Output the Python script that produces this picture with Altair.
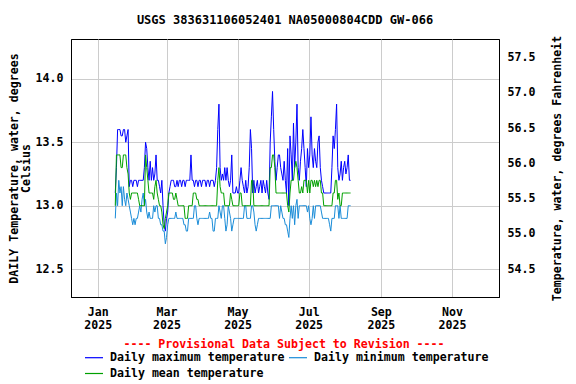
import altair as alt
import pandas as pd

TITLE = "USGS 383631106052401 NA05000804CDD GW-066"
PROVISIONAL = "---- Provisional Data Subject to Revision ----"
LEFT_TITLE = ["DAILY Temperature, water, degrees", "Celsius"]
RIGHT_TITLE = "Temperature, water, degrees Fahrenheit"
SERIES = ["Daily maximum temperature", "Daily minimum temperature", "Daily mean temperature"]
COLORS = ["#0000ff", "#1a8cd8", "#00a000"]
START = "2025-01-16"

max_t = [
    13.1, 13.3, 13.6, 13.6, 13.6, 13.55, 13.55, 13.6, 13.6, 13.5,
    13.55, 13.6, 13.15, 13.2, 13.2, 13.15, 13.2, 13.2, 13.2, 13.15,
    13.2, 13.2, 13.2, 13.2, 13.2, 13.3, 13.5, 13.45, 13.3, 13.2,
    13.35, 13.2, 13.3, 13.2, 13.25, 13.4, 13.2, 13.2, 13.15, 13.1,
    13.2, 13.0, 12.85, 12.8, 12.9, 12.95, 13.1, 13.15, 13.2, 13.2,
    13.2, 13.15, 13.15, 13.2, 13.15, 13.2, 13.2, 13.15, 13.2, 13.2,
    13.15, 13.2, 13.2, 13.2, 13.2, 13.4, 13.2, 13.2, 13.15, 13.2,
    13.2, 13.15, 13.2, 13.2, 13.15, 13.2, 13.2, 13.2, 13.15, 13.2,
    13.2, 13.15, 13.2, 13.2, 13.2, 13.15, 13.2, 13.3, 13.6, 13.8,
    13.3, 13.2, 13.25, 13.2, 13.3, 13.2, 13.3, 13.2, 13.15, 13.2,
    13.4, 13.1, 13.1, 13.1, 13.15, 13.1, 13.1, 13.2, 13.3, 13.2,
    13.15, 13.1, 13.2, 13.1, 13.15, 13.3, 13.6, 13.45, 13.1, 13.2,
    13.1, 13.15, 13.2, 13.1, 13.15, 13.2, 13.1, 13.2, 13.15, 13.1,
    13.2, 13.1, 13.05, 13.5, 13.7, 13.9, 13.6, 13.35, 13.2, 13.3,
    13.4, 13.4, 13.3, 13.25, 13.2, 13.35, 13.2, 13.1, 13.45, 13.0,
    13.55, 13.4, 13.2, 13.65, 13.3, 13.5, 13.8, 13.3, 13.2, 13.35,
    13.45, 13.6, 13.45, 13.3, 13.15, 13.45, 13.3, 13.4, 13.7, 13.4,
    13.3, 13.45, 13.35, 13.3, 13.5, 13.55, 13.3, 13.2, 13.15, 13.1,
    13.1, 13.1, 13.1, 13.1, 13.1, 13.1, 13.3, 13.55, 13.45, 13.6,
    13.8, 13.3, 13.2, 13.25, 13.35, 13.2, 13.3, 13.35, 13.25, 13.3,
    13.4, 13.2, 13.2,
]

min_t = [
    12.9, 13.1, 13.0, 13.2, 13.1, 13.15, 13.0, 13.15, 13.05, 13.0,
    13.1, 13.05, 13.0, 12.95, 12.9, 12.85, 12.9, 12.85, 12.9, 12.9,
    12.95, 13.0, 12.95, 13.05, 13.1, 13.0, 13.05, 12.95, 12.9, 12.95,
    12.9, 12.9, 12.9, 13.0, 12.95, 13.0, 13.0, 12.9, 12.9, 12.85,
    12.85, 12.8, 12.8, 12.7, 12.75, 12.85, 12.9, 12.9, 12.9, 12.9,
    12.9, 12.9, 12.95, 12.9, 12.9, 12.9, 12.9, 12.9, 12.9, 12.85,
    12.85, 12.8, 12.8, 12.9, 12.9, 12.9, 12.9, 12.9, 13.0, 13.0,
    12.9, 12.85, 12.9, 12.9, 12.9, 12.9, 12.9, 12.9, 12.9, 12.9,
    12.9, 12.95, 12.9, 12.9, 12.8, 12.8, 12.9, 12.9, 12.9, 13.0,
    12.95, 12.9, 13.0, 13.0, 12.9, 12.8, 12.85, 13.0, 12.95, 12.9,
    12.8, 12.85, 12.9, 12.9, 12.9, 12.9, 12.9, 12.9, 12.9, 12.9,
    12.9, 13.0, 13.0, 12.9, 12.9, 12.9, 12.9, 13.0, 13.0, 12.95,
    12.85, 12.8, 12.85, 12.9, 12.9, 12.9, 12.9, 12.9, 12.9, 12.9,
    12.9, 12.9, 12.9, 12.9, 13.0, 13.0, 13.0, 13.0, 13.0, 13.0,
    13.0, 12.9, 13.0, 12.95, 12.9, 12.9, 12.85, 12.85, 12.8, 12.75,
    12.9, 13.0, 12.9, 13.0, 12.85, 13.0, 13.05, 12.9, 13.0, 13.0,
    13.0, 13.0, 13.0, 13.0, 13.0, 12.95, 13.0, 12.9, 12.85, 12.9,
    13.0, 12.9, 13.0, 13.0, 13.0, 13.0, 13.0, 12.95, 12.9, 12.9,
    12.9, 12.9, 12.9, 12.9, 12.85, 12.8, 12.9, 12.9, 12.9, 13.0,
    13.0, 13.0, 12.9, 13.0, 12.9, 12.9, 12.9, 12.9, 12.9, 12.9,
    13.0, 13.0, 13.0,
]

mean_t = [
    13.0, 13.4, 13.4, 13.4, 13.4, 13.3, 13.3, 13.4, 13.4, 13.4,
    13.3, 13.25, 13.1, 13.05, 13.1, 13.1, 13.1, 13.1, 13.1, 13.1,
    13.05, 13.0, 13.0, 13.0, 13.0, 13.0, 13.4, 13.3, 13.2, 13.1,
    13.1, 13.1, 13.1, 13.05, 13.15, 13.2, 13.1, 13.05, 13.0, 13.0,
    12.95, 12.85, 12.82, 12.9, 12.95, 13.0, 13.1, 13.1, 13.1, 13.1,
    13.05, 13.05, 13.1, 13.05, 13.0, 13.0, 13.0, 13.0, 13.0, 13.0,
    12.9, 12.9, 12.9, 13.0, 13.0, 13.0, 13.0, 13.1, 13.1, 13.1,
    13.05, 13.05, 13.0, 13.0, 13.0, 13.0, 13.0, 13.0, 13.0, 13.0,
    13.0, 13.0, 13.0, 13.0, 13.0, 13.0, 13.0, 13.0, 13.2, 13.3,
    13.15, 13.1, 13.1, 13.1, 13.0, 13.0, 13.0, 13.0, 13.0, 13.1,
    13.05, 13.0, 13.0, 13.0, 13.0, 13.0, 13.0, 13.1, 13.1, 13.0,
    13.0, 13.0, 13.0, 13.0, 13.0, 13.0, 13.0, 13.2, 13.2, 13.0,
    13.0, 13.0, 13.0, 13.0, 13.0, 13.0, 13.0, 13.0, 13.0, 13.0,
    13.0, 13.0, 13.0, 13.3, 13.3, 13.4, 13.4, 13.3, 13.1, 13.1,
    13.1, 13.1, 13.1, 13.1, 13.1, 13.1, 13.1, 13.1, 13.0, 12.95,
    13.1, 13.2, 13.2, 13.2, 13.3, 13.35, 13.3, 13.2, 13.1, 13.1,
    13.15, 13.1, 13.2, 13.2, 13.2, 13.1, 13.2, 13.1, 13.2, 13.2,
    13.15, 13.2, 13.15, 13.2, 13.15, 13.2, 13.2, 13.1, 13.1, 13.0,
    13.0, 13.0, 13.0, 13.0, 13.0, 13.0, 13.0, 13.1, 13.1, 13.2,
    13.2, 13.05, 13.1, 13.0, 13.0, 13.1, 13.1, 13.1, 13.1, 13.1,
    13.1, 13.1, 13.1,
]

y_ticks_c = [12.5, 13.0, 13.5, 14.0]
y_ticks_f = [54.5, 55.0, 55.5, 56.0, 56.5, 57.0, 57.5]
y_domain_c = [12.281, 14.313]
x_tick_months = [1, 3, 5, 7, 9, 11]


def frame(vals, name, order):
    return pd.DataFrame({
        "date": pd.date_range(START, periods=len(vals), freq="D"),
        "value": vals,
        "series": name,
        "order": order,
    })


df = pd.concat([
    frame(max_t, SERIES[0], 0),
    frame(min_t, SERIES[1], 1),
    frame(mean_t, SERIES[2], 2),
], ignore_index=True)

FONT = "DejaVu Sans Mono"
FS = 11.6

x_enc = alt.X(
    "date:T",
    scale=alt.Scale(domain=[alt.DateTime(year=2024, month=12, date=9),
                            alt.DateTime(year=2025, month=12, date=11, hours=10)]),
    axis=alt.Axis(
        title=None,
        values=[alt.DateTime(year=2025, month=m, date=1) for m in x_tick_months],
        labelExpr="[timeFormat(datum.value, '%b'), timeFormat(datum.value, '%Y')]",
        labelLineHeight=13,
        labelPadding=9,
        ticks=False,
        grid=True,
        labelFlush=False,
        labelOverlap=False,
    ),
)

lines = alt.Chart(df).mark_line(strokeWidth=1, interpolate="linear").encode(
    x=x_enc,
    y=alt.Y(
        "value:Q",
        scale=alt.Scale(domain=y_domain_c, nice=False, zero=False),
        axis=alt.Axis(
            title=LEFT_TITLE,
            values=y_ticks_c,
            format=".1f",
            ticks=False,
            grid=True,
            labelPadding=8,
            titlePadding=4,
            titleLineHeight=12,
        ),
    ),
    color=alt.Color(
        "series:N",
        scale=alt.Scale(domain=SERIES, range=COLORS),
        legend=alt.Legend(
            title=None,
            orient="none",
            legendX=13,
            legendY=308.5,
            columns=2,
            direction="horizontal",
            symbolType="stroke",
            symbolSize=324,
            symbolStrokeWidth=1.2,
            labelFont=FONT,
            labelFontSize=FS,
            labelFontWeight="bold",
            labelColor="black",
            labelOffset=6,
            columnPadding=1,
            rowPadding=-2,
            padding=0,
            labelLimit=400,
        ),
    ),
    detail="order:N",
)

f_layer = alt.Chart(pd.DataFrame({"date": pd.date_range(START, periods=len(max_t), freq="D"),
                                  "value": max_t})).transform_calculate(
    f="datum.value * 1.8 + 32"
).mark_line(opacity=0).encode(
    x=alt.X("date:T"),
    y=alt.Y(
        "f:Q",
        scale=alt.Scale(domain=[y_domain_c[0] * 1.8 + 32, y_domain_c[1] * 1.8 + 32], nice=False, zero=False),
        axis=alt.Axis(
            orient="right",
            title=RIGHT_TITLE,
            values=y_ticks_f,
            format=".1f",
            ticks=False,
            grid=False,
            labelPadding=8,
            titleAngle=270,
            titlePadding=28,
        ),
    ),
)

prov = alt.Chart(pd.DataFrame({"t": [PROVISIONAL]})).mark_text(
    color="#ff0000", font=FONT, fontSize=FS, fontWeight="bold", align="center", baseline="middle"
).encode(
    x=alt.value(213),
    y=alt.value(306),
    text="t:N",
)

chart = alt.layer(lines, f_layer, prov).resolve_scale(y="independent").properties(
    width=428,
    height=258,
    autosize=alt.AutoSizeParams(type="none"),
    padding={"left": 63, "top": 31, "right": 69, "bottom": 87},
    title=alt.TitleParams(TITLE, font=FONT, fontSize=12, fontWeight="bold", color="black",
                          anchor="middle", offset=8),
    background="white",
).configure_view(
    stroke="black", strokeWidth=1
).configure_axis(
    labelFont=FONT,
    labelFontSize=FS,
    labelFontWeight="bold",
    labelColor="black",
    titleFont=FONT,
    titleFontSize=FS,
    titleFontWeight="bold",
    titleColor="black",
    domainColor="black",
    gridColor="#cccccc",
    gridWidth=1,
)

chart.save("out.html", embed_options={"renderer": "svg", "actions": False})
